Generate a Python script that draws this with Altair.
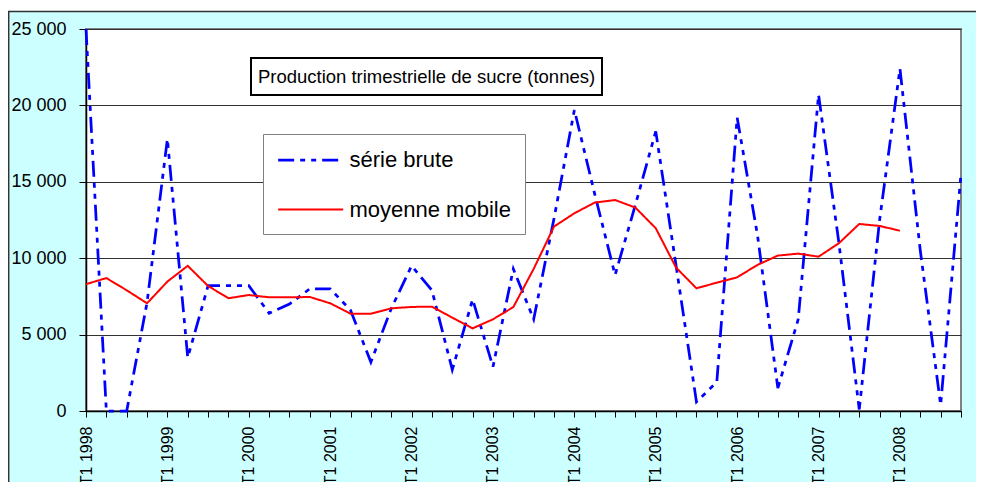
import altair as alt
import pandas as pd

years = list(range(1998, 2009))
quarters = [f"T{q} {y}" for y in years for q in (1, 2, 3, 4)]

brute = [25000, 0, 0, 7100, 17800, 3500, 8200, 8200, 8200, 6400, 7000, 8000,
         8000, 6600, 3200, 6700, 9500, 7900, 2700, 7300, 2900, 9300, 6000, 12600,
         19700, 14200, 8900, 13500, 18300, 9500, 600, 1900, 19200, 11500, 1500, 6000,
         20700, 11000, 100, 12500, 22400, 10500, 400, 15500]

mobile = [8300, 8700, 7900, 7050, 8470, 9500, 8180, 7380, 7590, 7440, 7440, 7460,
          7050, 6370, 6370, 6720, 6810, 6830, 6110, 5410, 6000, 6800, 9300, 12070,
          12940, 13640, 13810, 13310, 11960, 9380, 8030, 8400, 8750, 9560, 10170, 10300,
          10100, 10980, 12240, 12110, 11800, None, None, None]

series_names = ["série brute", "moyenne mobile"]
series_colors = ["#0000FF", "#FF0000"]
title_text = "Production trimestrielle de sucre (tonnes)"
y_ticks = [0, 5000, 10000, 15000, 20000, 25000]

rows = []
for q, b, m in zip(quarters, brute, mobile):
    rows.append({"trimestre": q, "serie": series_names[0], "valeur": b})
    if m is not None:
        rows.append({"trimestre": q, "serie": series_names[1], "valeur": m})
df = pd.DataFrame(rows)

FONT = "Liberation Sans"

x_enc = alt.X(
    "trimestre:N",
    sort=quarters,
    scale=alt.Scale(type="point", padding=0, domain=quarters),
    axis=alt.Axis(
        title=None, labelAngle=-90, labelAlign="right", labelBaseline="middle",
        labelExpr="indexof(datum.label, 'T1') == 0 ? datum.label : ''",
        labelFontSize=16, labelFont=FONT, labelColor="#000", labelPadding=9,
        labelOverlap=False, tickSize=6, tickColor="#000", domainColor="#000",
        domainWidth=1.5, grid=False,
    ),
)
y_enc = alt.Y(
    "valeur:Q",
    scale=alt.Scale(domain=[0, 25000], nice=False),
    axis=alt.Axis(
        title=None, values=y_ticks,
        labelExpr="replace(format(datum.value, ','), ',', ' ')",
        labelFontSize=18, labelFont=FONT, labelColor="#000", labelPadding=13,
        tickSize=7, tickColor="#000", domainColor="#000", domainWidth=1.5,
        grid=True, gridColor="#333", gridWidth=1,
    ),
)
color_enc = alt.Color("serie:N", scale=alt.Scale(domain=series_names, range=series_colors), legend=alt.Legend(title=None))
dash_enc = alt.StrokeDash("serie:N", scale=alt.Scale(domain=series_names, range=[[16, 6, 5, 6, 5, 6], [1, 0]]), legend=alt.Legend(title=None))
width_enc = alt.StrokeWidth("serie:N", scale=alt.Scale(domain=series_names, range=[2.75, 2]), legend=alt.Legend(title=None))

base = alt.Chart(df).encode(x=x_enc, y=y_enc, color=color_enc, strokeDash=dash_enc, strokeWidth=width_enc)
blue_line = base.transform_filter(alt.datum.serie == series_names[0]).mark_line()
red_line = base.transform_filter(alt.datum.serie == series_names[1]).mark_line()

deco = alt.Chart(pd.DataFrame({"t": [title_text]}))
title_box = deco.mark_rect(fill="white", stroke="#000", strokeWidth=2).encode(
    x=alt.value(165), x2=alt.value(516), y=alt.value(29), y2=alt.value(66))
title_label = deco.mark_text(font=FONT, fontSize=18.5, color="#000", align="center", baseline="middle").encode(
    x=alt.value(340.5), y=alt.value(48), text="t:N")
top_white = deco.mark_rect(fill="white", strokeWidth=0).encode(
    x=alt.value(-80), x2=alt.value(900), y=alt.value(-22), y2=alt.value(-18.2))
top_border = deco.mark_rule(color="#333", strokeWidth=1.5).encode(
    x=alt.value(-78), x2=alt.value(900), y=alt.value(-17.5))
left_border = deco.mark_rule(color="#333", strokeWidth=1.5).encode(
    x=alt.value(-77.3), y=alt.value(-17.5), y2=alt.value(470))

chart = alt.layer(
    top_white, top_border, left_border, blue_line, red_line, title_box, title_label
).properties(
    width=875, height=382,
    autosize=alt.AutoSizeParams(type="none"),
    padding={"left": 78, "top": 21, "right": 15, "bottom": 71},
    background="#CCFFFF",
).configure_view(
    fill="white", stroke="#808080", strokeWidth=2,
).configure_legend(
    orient="none", legendX=177, legendY=105, padding=13.5,
    fillColor="white", strokeColor="#808080", strokeWidth=1,
    labelFontSize=22, labelFont=FONT, labelColor="#000", labelLimit=400,
    labelOffset=48, symbolType="M-1,0H5", symbolSize=470, rowPadding=26,
    cornerRadius=0,
)

chart.save("out.html", embed_options={"renderer": "svg", "actions": False})
